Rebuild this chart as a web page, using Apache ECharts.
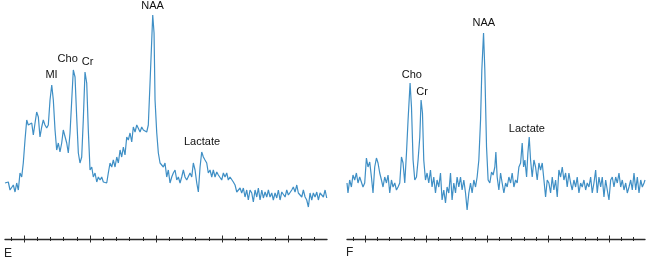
<!DOCTYPE html>
<html>
<head>
<meta charset="utf-8">
<script src="https://cdn.jsdelivr.net/npm/echarts@6/dist/echarts.min.js"></script>
<style>
html,body{margin:0;padding:0;background:#fff;}
#chart{width:650px;height:262px;}
</style>
</head>
<body>
<div id="chart"></div>
<script>
// Panel E: chemical shift (ppm) and signal intensity
const eShift = [4.288,4.238,4.212,4.162,4.136,4.111,4.086,4.061,4.035,4.011,
3.985,3.959,3.935,3.909,3.883,3.859,3.833,3.808,3.783,3.758,
3.732,3.708,3.682,3.656,3.632,3.606,3.580,3.556,3.530,3.505,
3.480,3.455,3.429,3.405,3.379,3.353,3.329,3.303,3.277,3.253,
3.227,3.202,3.177,3.152,3.126,3.102,3.076,3.050,3.026,3.000,
2.974,2.950,2.924,2.898,2.874,2.848,2.823,2.798,2.747,2.723,
2.697,2.671,2.647,2.621,2.595,2.571,2.545,2.520,2.495,2.470,
2.444,2.420,2.394,2.368,2.344,2.318,2.292,2.268,2.242,2.217,
2.192,2.167,2.141,2.117,2.091,2.065,2.050,2.030,2.015,1.989,
1.965,1.939,1.914,1.889,1.864,1.838,1.814,1.788,1.762,1.738,
1.712,1.686,1.662,1.636,1.611,1.586,1.561,1.535,1.511,1.485,
1.459,1.435,1.409,1.383,1.359,1.333,1.308,1.283,1.258,1.232,
1.208,1.182,1.156,1.132,1.106,1.080,1.056,1.030,1.005,0.980,
0.955,0.929,0.905,0.879,0.853,0.829,0.803,0.777,0.753,0.727,
0.702,0.677,0.652,0.626,0.602,0.576,0.550,0.526,0.500,0.474,
0.450,0.424,0.398,0.374,0.348,0.323,0.298,0.273,0.247,0.223,
0.197,0.171,0.147,0.121,0.095,0.071,0.045,0.020,-0.005,-0.030,
-0.056,-0.080,-0.106,-0.132,-0.156,-0.182,-0.208,-0.232,-0.258,-0.283,
-0.308,-0.333,-0.359,-0.383,-0.409,-0.435,-0.459,-0.485,-0.511,-0.535,
-0.561,-0.586];
const eIntensity = [56,57,49,54,47,56,49,66,62,76,
99,119,114,112,116,104,116,127,122,102,
112,119,114,111,114,139,154,139,109,89,
96,87,96,109,109,96,86,106,139,169,
162,122,86,76,82,119,167,156,109,69,
72,62,66,57,62,59,62,57,56,66,
76,72,79,72,82,76,89,82,92,84,
102,99,106,97,112,107,114,112,107,112,
109,111,107,114,156,199,224,206,139,106,
86,76,77,72,76,62,69,56,62,66,
69,59,62,56,62,69,62,59,59,66,
62,76,69,56,47,72,87,82,79,76,
66,69,62,69,62,67,64,66,59,66,
62,66,59,62,62,57,54,47,49,51,
46,51,42,49,39,49,46,37,49,42,
51,39,49,41,47,42,49,42,46,39,
46,41,49,39,47,46,42,49,44,46,
49,52,47,54,46,47,42,49,42,39,
32,46,39,46,42,47,39,46,47,42,
49,41];

// Panel F
const fShift = [4.295,4.279,4.251,4.223,4.197,4.169,4.141,4.115,4.087,4.059,
4.033,4.005,3.977,3.951,3.923,3.895,3.869,3.841,3.813,3.787,
3.759,3.731,3.705,3.677,3.649,3.623,3.595,3.567,3.541,3.513,
3.485,3.459,3.431,3.403,3.377,3.349,3.321,3.295,3.262,3.239,
3.213,3.185,3.157,3.131,3.103,3.082,3.059,3.038,3.010,2.984,
2.956,2.928,2.902,2.874,2.846,2.820,2.792,2.764,2.738,2.710,
2.682,2.656,2.628,2.600,2.574,2.546,2.518,2.492,2.464,2.436,
2.410,2.382,2.354,2.328,2.300,2.272,2.246,2.218,2.190,2.164,
2.136,2.108,2.087,2.059,2.038,2.010,1.984,
1.956,1.928,1.902,1.874,1.857,1.836,1.808,1.780,1.754,1.726,
1.698,1.672,1.644,1.616,1.590,1.562,1.534,1.508,1.480,1.452,
1.426,1.403,1.382,1.354,1.333,1.311,1.289,1.262,1.234,1.207,
1.180,1.152,1.125,1.098,1.070,1.043,1.016,0.989,0.961,0.934,
0.907,0.879,0.852,0.825,0.797,0.770,0.743,0.715,0.689,0.661,
0.633,0.607,0.579,0.551,0.525,0.497,0.469,0.443,0.415,0.387,
0.361,0.333,0.305,0.279,0.251,0.223,0.197,0.169,0.141,0.115,
0.087,0.059,0.033,0.005,-0.023,-0.049,-0.077,-0.105,-0.131,-0.159,
-0.187,-0.213,-0.241,-0.269,-0.295,-0.323,-0.351,-0.377,-0.405,-0.433,
-0.459,-0.487,-0.515,-0.541,-0.569,-0.585];
const fIntensity = [56,46,59,52,64,59,66,56,62,62,
52,56,81,72,77,62,46,72,81,76,
66,59,52,62,56,64,46,59,52,56,
49,52,56,82,76,56,86,119,156,132,
79,59,62,79,102,139,126,79,59,66,
56,69,52,62,46,59,52,66,39,49,
36,52,46,66,39,56,46,62,52,62,
49,59,46,29,46,56,46,59,52,62,
79,119,169,206,169,92,59,
56,67,64,72,87,62,49,66,56,46,
56,52,62,56,66,52,59,56,72,76,
96,72,79,62,86,102,79,62,79,72,
59,76,69,76,59,42,59,56,46,62,
49,59,42,69,62,72,59,66,52,66,
56,49,59,52,62,46,56,52,59,49,
56,52,62,46,56,69,46,62,52,62,
42,59,49,39,59,62,52,62,56,66,
52,59,49,56,46,52,59,49,66,49,
62,46,59,52,56,59];

// Axis ticks (ppm)
const majorTicks = [4, 3, 2, 1, 0];
const minorTicks = [4.2,3.8,3.6,3.4,3.2,2.8,2.6,2.4,2.2,1.8,1.6,1.4,1.2,0.8,0.6,0.4,0.2,-0.2,-0.4];

// Peak annotations
const ePeakNames = ['MI', 'Cho', 'Cr', 'NAA', 'Lactate'];
const ePeakShift = [3.583, 3.338, 3.038, 2.053, 1.303];
const ePeakLabelLevel = [164, 180, 177, 233, 97];
const fPeakNames = ['Cho', 'Cr', 'NAA', 'Lactate'];
const fPeakShift = [3.234, 3.066, 2.054, 1.349];
const fPeakLabelLevel = [164, 147, 216, 110];

const panelNames = ['E', 'F'];
const eRange = [-0.59, 4.288];
const fRange = [-0.585, 4.295];

const FONT = '"Liberation Sans", Arial, Helvetica, sans-serif';
const LINE_COLOR = '#3f8fc5';
const AXIS_COLOR = '#2a2a2a';

function zip(a, b) { return a.map((v, i) => [v, b[i]]); }

function axesFor(gi, range) {
  const base = {
    type: 'value', gridIndex: gi, inverse: true, min: range[0], max: range[1],
    position: 'bottom', axisLabel: { show: false }, splitLine: { show: false }
  };
  return [
    Object.assign({}, base, {
      axisLine: { show: true, onZero: false, lineStyle: { color: AXIS_COLOR, width: 1.4 } },
      axisTick: { show: false }
    }),
    Object.assign({}, base, {
      offset: -3.5,
      axisLine: { show: false, onZero: false },
      axisTick: { show: true, customValues: majorTicks, length: 7, lineStyle: { color: AXIS_COLOR, width: 1 } }
    }),
    Object.assign({}, base, {
      offset: -2,
      axisLine: { show: false, onZero: false },
      axisTick: { show: true, customValues: minorTicks, length: 4, lineStyle: { color: AXIS_COLOR, width: 1 } }
    })
  ];
}

function peakMarks(names, shifts, levels) {
  return names.map((n, i) => ({ name: n, coord: [shifts[i], levels[i]] }));
}

function spectrum(xi, yi, data, marks) {
  return {
    type: 'line', xAxisIndex: xi, yAxisIndex: yi, data: data,
    showSymbol: false, symbol: 'none', smooth: false,
    lineStyle: { color: LINE_COLOR, width: 1.2 },
    emphasis: { disabled: true },
    markPoint: {
      symbol: 'circle', symbolSize: 0, silent: true,
      label: { show: true, position: 'inside', formatter: '{b}', color: '#111', fontSize: 11, fontFamily: FONT },
      data: marks
    }
  };
}

const chart = echarts.init(document.getElementById('chart'), null, { renderer: 'canvas' });
chart.setOption({
  animation: false,
  backgroundColor: '#fff',
  title: [
    { text: panelNames[0], left: 4, top: 248, padding: 0, textStyle: { fontSize: 12, fontWeight: 'normal', color: '#222', fontFamily: FONT } },
    { text: panelNames[1], left: 346, top: 247, padding: 0, textStyle: { fontSize: 12, fontWeight: 'normal', color: '#222', fontFamily: FONT } }
  ],
  grid: [
    { left: 5, top: 0, width: 322, height: 239 },
    { left: 347, top: 0, width: 298, height: 239 }
  ],
  xAxis: axesFor(0, eRange).concat(axesFor(1, fRange)),
  yAxis: [
    { type: 'value', gridIndex: 0, min: 0, max: 239, show: false },
    { type: 'value', gridIndex: 1, min: 0, max: 239, show: false }
  ],
  series: [
    spectrum(0, 0, zip(eShift, eIntensity), peakMarks(ePeakNames, ePeakShift, ePeakLabelLevel)),
    spectrum(3, 1, zip(fShift, fIntensity), peakMarks(fPeakNames, fPeakShift, fPeakLabelLevel))
  ]
});
</script>
</body>
</html>
